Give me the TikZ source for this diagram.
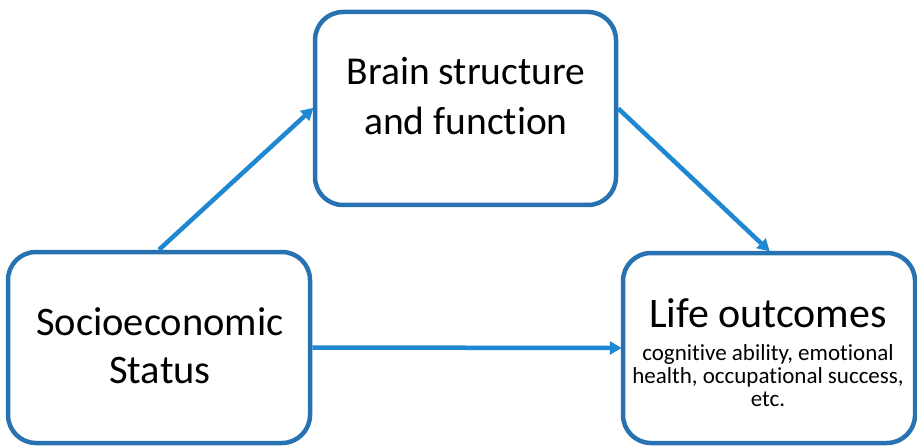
\documentclass[tikz,border=0pt]{standalone}
\usepackage{fontspec}
\setmainfont[Ligatures=NoCommon]{Carlito}
\usetikzlibrary{arrows.meta}
\definecolor{boxblue}{RGB}{40,114,178}
\definecolor{arrowblue}{RGB}{30,136,210}
\begin{document}
\begin{tikzpicture}[x=1pt,y=-1pt,
  box/.style={draw=boxblue,line width=4.5pt,rounded corners=28pt,fill=white,inner sep=0pt},
  link/.style={draw=arrowblue,line width=4.5pt,-{Triangle[length=12pt,width=13pt]},shorten >=-1pt},
  big/.style={align=center,anchor=base,inner sep=0pt},
  small/.style={font=\fontsize{23}{25}\selectfont,align=center,anchor=base,inner sep=0pt}]
\useasboundingbox[fill=white] (0,0) rectangle (917,446);
\node[box,minimum width=301pt,minimum height=193pt] (brain) at (465.5,108.5) {};
\node[box,minimum width=302pt,minimum height=191pt] (ses) at (159,347.5) {};
\node[box,minimum width=292pt,minimum height=190pt] (life) at (769,348) {};
\node[big,font=\fontsize{39.5}{46}\selectfont] (t1) at (466,85) {Brain structure};
\node[big,font=\fontsize{39.5}{46}\selectfont] (t2) at (466,135) {and function};
\node[big,font=\fontsize{40.5}{46}\selectfont] (t3) at (160,335) {Socioeconomic};
\node[big,font=\fontsize{40.5}{46}\selectfont] (t4) at (160,383) {Status};
\node[big,font=\fontsize{42}{46}\selectfont] (t5) at (768,327) {Life outcomes};
\node[small] (t6) at (768,360) {cognitive ability, emotional};
\node[small] (t7) at (768,383) {health, occupational success,};
\node[small] (t8) at (768,406) {etc.};
\draw[link] (ses.north) -- (brain.west);
\draw[link] (brain.east) -- (life.north);
\draw[link] (ses.east) -- (life.west);
\end{tikzpicture}
\end{document}
